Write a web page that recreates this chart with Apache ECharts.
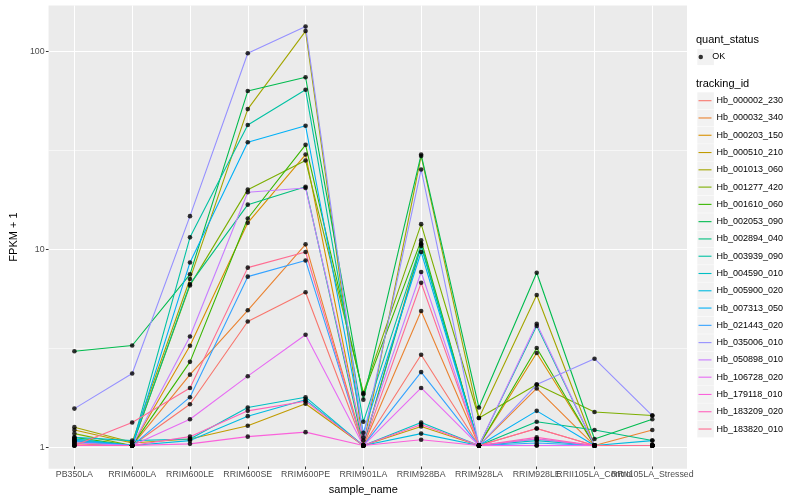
<!DOCTYPE html>
<html><head><meta charset="utf-8">
<script src="https://cdn.jsdelivr.net/npm/echarts@6/dist/echarts.min.js"></script>
<style>html,body{margin:0;padding:0;background:#fff}#c{width:800px;height:500px}</style>
</head><body><div id="c"></div>
<script>
// ---------- DATA ----------
const categories = ['PB350LA','RRIM600LA','RRIM600LE','RRIM600SE','RRIM600PE','RRIM901LA','RRIM928BA','RRIM928LA','RRIM928LE','RRII105LA_Control','RRII105LA_Stressed'];
const trackingIds = ['Hb_000002_230','Hb_000032_340','Hb_000203_150','Hb_000510_210','Hb_001013_060','Hb_001277_420','Hb_001610_060','Hb_002053_090','Hb_002894_040','Hb_003939_090','Hb_004590_010','Hb_005900_020','Hb_007313_050','Hb_021443_020','Hb_035006_010','Hb_050898_010','Hb_106728_020','Hb_179118_010','Hb_183209_020','Hb_183820_010'];
const quantStatus = ['OK'];
const yTickValues = [1, 10, 100];
const yMinorValues = [3.1623, 31.623];

const hb_000002_230 = [1.02, 1.00, 1.62, 4.26, 6.0, 1.00, 2.89, 1.00, 1.22, 1.00, 1.00];
const hb_000032_340 = [1.03, 1.00, 2.29, 4.86, 10.5, 1.00, 4.82, 1.00, 1.95, 1.00, 1.20];
const hb_000203_150 = [1.05, 1.00, 3.21, 13.5, 30.0, 1.00, 10.6, 1.00, 2.95, 1.00, 1.00];
const hb_000510_210 = [1.20, 1.03, 1.08, 1.26, 1.63, 1.00, 1.25, 1.00, 1.00, 1.00, 1.00];
const hb_001013_060 = [1.24, 1.04, 7.0, 51.0, 127.0, 1.00, 29.5, 1.38, 5.81, 1.00, 1.00];
const hb_001277_420 = [1.15, 1.00, 6.5, 19.9, 28.0, 1.85, 13.3, 1.38, 2.04, 1.48, 1.42];
const hb_001610_060 = [1.10, 1.00, 2.66, 14.2, 33.6, 1.82, 11.0, 1.00, 3.13, 1.00, 1.00];
const hb_002053_090 = [3.01, 3.22, 7.4, 63.0, 74.0, 1.71, 30.0, 1.56, 7.54, 1.08, 1.36];
const hb_002894_040 = [1.06, 1.00, 6.6, 16.7, 20.6, 1.00, 10.3, 1.00, 1.32, 1.20, 1.06];
const hb_003939_090 = [1.08, 1.00, 11.4, 42.4, 64.0, 1.32, 10.5, 1.00, 4.05, 1.00, 1.00];
const hb_004590_010 = [1.10, 1.06, 1.08, 1.56, 1.76, 1.00, 1.31, 1.00, 1.06, 1.00, 1.00];
const hb_005900_020 = [1.08, 1.00, 1.06, 1.41, 1.71, 1.00, 1.15, 1.00, 1.08, 1.00, 1.06];
const hb_007313_050 = [1.06, 1.00, 8.5, 34.6, 42.0, 1.16, 9.6, 1.00, 1.50, 1.00, 1.00];
const hb_021443_020 = [1.05, 1.00, 1.76, 7.2, 8.7, 1.00, 2.36, 1.00, 1.03, 1.00, 1.00];
const hb_035006_010 = [1.54, 2.32, 14.6, 98.0, 134.0, 1.10, 25.2, 1.00, 2.04, 2.76, 1.42];
const hb_050898_010 = [1.03, 1.00, 3.58, 19.3, 20.3, 1.06, 7.6, 1.00, 4.15, 1.00, 1.00];
const hb_106728_020 = [1.00, 1.00, 1.36, 2.25, 3.65, 1.00, 1.96, 1.00, 1.00, 1.00, 1.00];
const hb_179118_010 = [1.00, 1.00, 1.02, 1.11, 1.17, 1.00, 1.07, 1.00, 1.08, 1.00, 1.00];
const hb_183209_020 = [1.00, 1.00, 1.11, 1.50, 1.68, 1.00, 1.28, 1.00, 1.10, 1.00, 1.00];
const hb_183820_010 = [1.00, 1.31, 1.96, 8.0, 9.6, 1.00, 6.7, 1.00, 1.22, 1.00, 1.00];

const seriesValues = [hb_000002_230, hb_000032_340, hb_000203_150, hb_000510_210, hb_001013_060, hb_001277_420, hb_001610_060, hb_002053_090, hb_002894_040, hb_003939_090, hb_004590_010, hb_005900_020, hb_007313_050, hb_021443_020, hb_035006_010, hb_050898_010, hb_106728_020, hb_179118_010, hb_183209_020, hb_183820_010];

// ---------- STYLE ----------
const colors = ['#F8766D','#EA8331','#D89000','#C09B00','#A3A500','#7CAE00','#39B600','#00BB4E','#00BF7D','#00C1A3','#00BFC4','#00BAE0','#00B0F6','#35A2FF','#9590FF','#C77CFF','#E76BF3','#FA62DB','#FF62BC','#FF6C91'];
const FONT = '"Liberation Sans", Arial, Helvetica, sans-serif';
const P = {left: 39.7, right: 687, top: 5.4, bottom: 468.7};
const firstCat = 74.4, lastCat = 652.3;
const yMin = 0.783, yMax = 171.4;
const legendRow0 = 100.7, legendStep = 17.28;

const chart = echarts.init(document.getElementById('c'), null, {renderer: 'canvas', width: 800, height: 500});

const lineSeries = trackingIds.map((id, k) => ({
  name: id, type: 'line', xAxisIndex: 1, yAxisIndex: 1,
  data: seriesValues[k], symbol: 'none', showSymbol: false,
  lineStyle: {color: colors[k], width: 1.1}, itemStyle: {color: colors[k]},
  z: 3, silent: true, animation: false
}));
const points = [];
seriesValues.forEach(vals => vals.forEach((v, i) => points.push([i, v])));

const keyBoxes = [];
keyBoxes.push({type: 'rect', shape: {x: 697.3, y: 57 - 8.1, width: 16.6, height: 16.2}, style: {fill: '#F2F2F2'}, z: 0, silent: true});
trackingIds.forEach((id, k) => {
  keyBoxes.push({type: 'rect', shape: {x: 697.3, y: legendRow0 + k * legendStep - 8.4, width: 16.6, height: 16.8}, style: {fill: '#F2F2F2'}, z: 0, silent: true});
});

const legendText = {fontSize: 9, lineHeight: 12, fontFamily: FONT, color: '#000'};

chart.setOption({
  animation: false,
  backgroundColor: '#fff',
  grid: [
    {left: P.left, top: P.top, width: P.right - P.left, height: P.bottom - P.top, show: true, backgroundColor: '#EBEBEB', borderWidth: 0, containLabel: false},
    {left: firstCat, top: P.top, width: lastCat - firstCat, height: P.bottom - P.top, show: false, containLabel: false}
  ],
  xAxis: [
    {type: 'value', gridIndex: 0, min: 0, max: 1, show: false},
    {type: 'category', gridIndex: 1, data: categories, boundaryGap: false,
     axisLine: {show: false},
     axisTick: {show: true, interval: 0, length: 2.7, lineStyle: {color: '#333', width: 1}},
     axisLabel: {interval: 0, hideOverlap: false, color: '#4D4D4D', fontSize: 8.8, fontFamily: FONT, margin: 3.6},
     splitLine: {show: true, interval: 0, lineStyle: {color: '#FFFFFF', width: 1.07}},
     name: 'sample_name', nameLocation: 'middle', nameGap: 14,
     nameTextStyle: {color: '#000', fontSize: 11, fontFamily: FONT}}
  ],
  yAxis: [
    {type: 'log', logBase: 10, gridIndex: 0, min: yMin, max: yMax,
     axisLine: {show: false},
     axisTick: {show: true, length: 2.7, customValues: yTickValues, lineStyle: {color: '#333', width: 1}},
     axisLabel: {color: '#4D4D4D', fontSize: 8.8, fontFamily: FONT, margin: 4, customValues: yTickValues,
                 formatter: v => String(Math.round(v))},
     splitLine: {show: true, lineStyle: {color: '#FFFFFF', width: 1.07}},
     name: 'FPKM + 1', nameLocation: 'middle', nameGap: 22, nameRotate: 90,
     nameTextStyle: {color: '#000', fontSize: 11, fontFamily: FONT}},
    {type: 'log', logBase: 10, gridIndex: 1, min: yMin, max: yMax, show: false,
     splitLine: {show: false}},
    {type: 'log', logBase: 10, gridIndex: 0, min: yMin, max: yMax,
     axisLine: {show: false},
     axisTick: {show: false, customValues: yMinorValues},
     axisLabel: {show: false, customValues: yMinorValues},
     splitLine: {show: true, lineStyle: {color: '#FFFFFF', width: 0.55}}}
  ],
  legend: [
    {data: quantStatus, orient: 'vertical', left: 698.5, top: 51, padding: 0, itemGap: 0,
     itemWidth: 13, itemHeight: 4.5, icon: 'circle', selectedMode: false, textStyle: legendText},
    {data: trackingIds, orient: 'vertical', left: 698.5, top: legendRow0 - 6, padding: 0, itemGap: legendStep - 12,
     itemWidth: 13, itemHeight: 1.1, icon: 'rect', selectedMode: false, textStyle: legendText}
  ],
  graphic: keyBoxes.concat([
    {type: 'text', left: 696, top: 34.5, silent: true, style: {text: 'quant_status', font: '11px ' + FONT, fill: '#000'}},
    {type: 'text', left: 696, top: 78, silent: true, style: {text: 'tracking_id', font: '11px ' + FONT, fill: '#000'}}
  ]),
  series: lineSeries.concat([
    {type: 'scatter', name: 'OK', xAxisIndex: 1, yAxisIndex: 1, data: points, symbol: 'circle', symbolSize: 4.6,
     itemStyle: {color: '#000'}, z: 4, silent: true}
  ])
});
</script></body></html>
